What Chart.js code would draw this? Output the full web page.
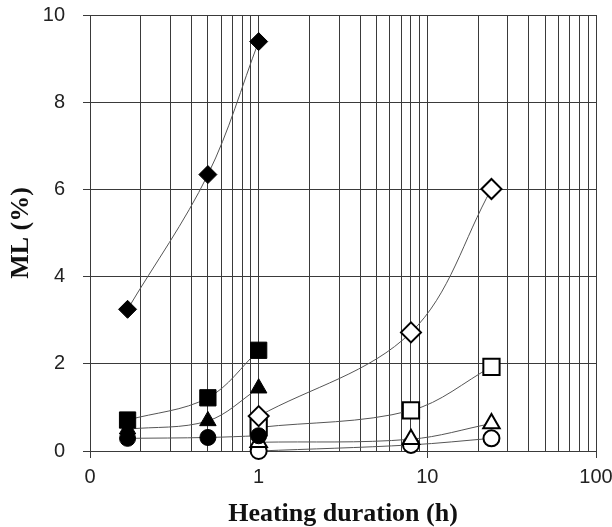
<!DOCTYPE html>
<html>
<head>
<meta charset="utf-8">
<script src="https://cdn.jsdelivr.net/npm/chart.js@4/dist/chart.umd.min.js"></script>
<style>
  html, body { margin: 0; padding: 0; background: #fff; }
  canvas { display: block; }
</style>
</head>
<body>
<canvas id="mlChart" width="612" height="527"></canvas>
<script>
// heating durations (h)
const shortTimes = [0.167, 0.5, 1];
const longTimes = [1, 8, 24];

// ML (%)
const filledDiamond = [3.25, 6.34, 9.39];
const filledSquare = [0.71, 1.22, 2.31];
const filledTriangle = [0.5, 0.69, 1.44];
const filledCircle = [0.29, 0.31, 0.35];
const openDiamond = [0.8, 2.72, 6.01];
const openSquare = [0.54, 0.93, 1.93];
const openTriangle = [0.2, 0.27, 0.63];
const openCircle = [0.0, 0.14, 0.29];

const yTicks = [0, 2, 4, 6, 8, 10];
const xMajor = [0.1, 1, 10, 100];
const xLabels = ['0', '1', '10', '100'];

function pts(xs, ys) {
  return xs.map((x, i) => ({ x: x, y: ys[i] }));
}

function series(xs, ys, style, radius, filled) {
  return {
    data: pts(xs, ys),
    pointStyle: style,
    pointRadius: radius,
    pointHoverRadius: radius,
    pointBackgroundColor: filled ? '#000' : '#fff',
    pointBorderColor: '#000',
    pointBorderWidth: filled ? 1 : 2,
    borderColor: '#555',
    borderWidth: 1,
    tension: 0.35,
    clip: false
  };
}

function isMajor(v) {
  return xMajor.some(m => Math.abs(m - v) < 1e-9);
}

const config = {
  type: 'line',
  data: {
    datasets: [
      series(shortTimes, filledDiamond, 'rectRot', 9, true),
      series(shortTimes, filledSquare, 'rect', 11.5, true),
      series(shortTimes, filledTriangle, 'triangle', 9.5, true),
      series(shortTimes, filledCircle, 'circle', 8, true),
      series(longTimes, openDiamond, 'rectRot', 10, false),
      series(longTimes, openSquare, 'rect', 11.5, false),
      series(longTimes, openTriangle, 'triangle', 9.5, false),
      series(longTimes, openCircle, 'circle', 8, false)
    ]
  },
  options: {
    responsive: false,
    animation: false,
    devicePixelRatio: 1,
    layout: { padding: 0 },
    plugins: { legend: { display: false }, tooltip: { enabled: false } },
    scales: {
      x: {
        type: 'logarithmic',
        min: 0.1,
        max: 100,
        afterBuildTicks: function (scale) {
          const t = [];
          for (let e = -1; e < 2; e++) {
            for (let s = 1; s < 10; s++) {
              t.push({ value: Math.round(s * Math.pow(10, e) * 10) / 10 });
            }
          }
          t.push({ value: 100 });
          scale.ticks = t;
        },
        afterFit: function (scale) {
          scale.height = 76;
          scale.paddingLeft = 0;
          scale.paddingRight = 16;
        },
        grid: {
          color: '#3a3a3a',
          lineWidth: 1,
          tickLength: 7,
          tickColor: ctx => (ctx.tick && isMajor(ctx.tick.value)) ? '#3a3a3a' : 'rgba(0,0,0,0)'
        },
        border: { color: '#3a3a3a', width: 1 },
        ticks: {
          autoSkip: false,
          maxRotation: 0,
          padding: 7,
          color: '#222',
          font: { family: 'Liberation Sans, Arial, sans-serif', size: 20 },
          callback: function (value) {
            const i = xMajor.findIndex(m => Math.abs(m - value) < 1e-9);
            return i >= 0 ? xLabels[i] : '';
          }
        },
        title: {
          display: true,
          text: 'Heating duration (h)',
          color: '#111',
          padding: { top: 0, bottom: 0 },
          font: { family: 'Liberation Serif, Times New Roman, serif', size: 26, weight: 'bold', lineHeight: 1 }
        }
      },
      y: {
        min: 0,
        max: 10,
        afterBuildTicks: function (scale) {
          scale.ticks = yTicks.map(v => ({ value: v }));
        },
        afterFit: function (scale) {
          scale.width = 90;
          scale.paddingTop = 15;
          scale.paddingBottom = 0;
        },
        grid: { color: '#3a3a3a', lineWidth: 1, tickLength: 7 },
        border: { color: '#3a3a3a', width: 1 },
        ticks: {
          padding: 18,
          color: '#222',
          font: { family: 'Liberation Sans, Arial, sans-serif', size: 20 }
        },
        title: {
          display: true,
          text: 'ML (%)',
          color: '#111',
          padding: { top: 6, bottom: 0 },
          font: { family: 'Liberation Serif, Times New Roman, serif', size: 26, weight: 'bold', lineHeight: 1.2 }
        }
      }
    }
  }
};

const mlChart = new Chart(document.getElementById('mlChart'), config);
</script>
</body>
</html>
